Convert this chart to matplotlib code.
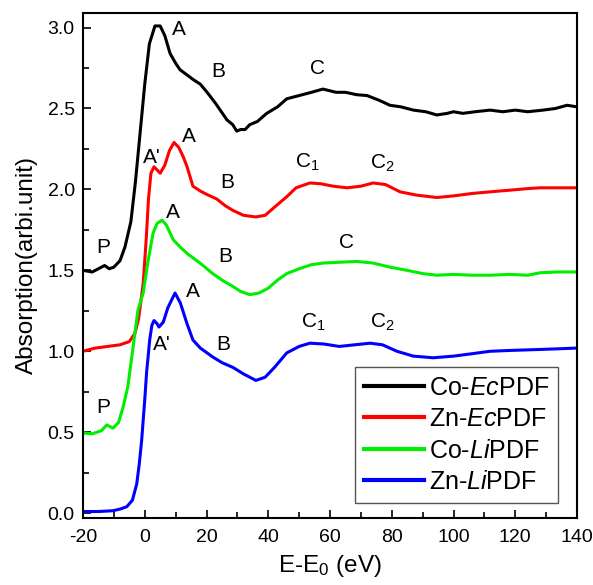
import numpy as np
import matplotlib
matplotlib.use('Agg')
import matplotlib.pyplot as plt

plt.rcParams['font.family'] = 'Liberation Sans'
plt.rcParams['mathtext.fontset'] = 'custom'
plt.rcParams['mathtext.rm'] = 'Liberation Sans'
plt.rcParams['mathtext.it'] = 'Liberation Sans:italic'
plt.rcParams['axes.unicode_minus'] = False

# Co-EcPDF (black)
e_co_ec = [-20, -17, -15, -13, -11.5, -10, -8, -6.4, -4.5, -3, -1.5, 0, 1.5, 3.3, 5, 6.5, 8.2, 10, 11.4, 13.5, 15.6, 18, 20.2, 23, 26.6, 28.5, 29.8, 31, 32.5, 34, 36.5, 39.5, 43, 46, 50, 54, 57.7, 62, 65, 68.7, 72, 76, 79.4, 83, 87, 91, 94.6, 98, 100, 103, 107, 111.8, 116, 120, 124, 129, 133, 136.8, 140]
a_co_ec = [1.50, 1.49, 1.51, 1.53, 1.51, 1.52, 1.56, 1.645, 1.80, 2.05, 2.35, 2.65, 2.90, 3.01, 3.01, 2.95, 2.84, 2.78, 2.74, 2.71, 2.68, 2.65, 2.60, 2.53, 2.43, 2.40, 2.36, 2.37, 2.37, 2.40, 2.42, 2.47, 2.51, 2.56, 2.58, 2.60, 2.62, 2.60, 2.60, 2.585, 2.58, 2.55, 2.52, 2.51, 2.49, 2.48, 2.46, 2.47, 2.48, 2.47, 2.48, 2.49, 2.48, 2.49, 2.48, 2.49, 2.50, 2.52, 2.51]

# Zn-EcPDF (red)
e_zn_ec = [-20, -16, -12, -8, -5, -3.2, -2, -0.5, 0.5, 1.2, 2, 3, 4, 5, 6.5, 8, 9.5, 11, 12.5, 13.7, 15.6, 18, 20, 23.4, 26, 28.6, 32, 36, 39, 42, 46, 49, 53.5, 57, 61, 65.5, 70, 74, 78, 82.7, 88, 94.6, 100, 106, 111.8, 118, 124, 128, 134, 140]
a_zn_ec = [1.00, 1.02, 1.03, 1.04, 1.06, 1.11, 1.20, 1.42, 1.70, 1.94, 2.10, 2.14, 2.12, 2.10, 2.15, 2.24, 2.29, 2.26, 2.20, 2.14, 2.02, 1.99, 1.97, 1.94, 1.90, 1.87, 1.84, 1.83, 1.84, 1.89, 1.955, 2.01, 2.04, 2.035, 2.02, 2.01, 2.02, 2.04, 2.03, 1.985, 1.965, 1.95, 1.96, 1.975, 1.985, 1.995, 2.005, 2.01, 2.01, 2.01]

# Co-LiPDF (green)
e_co_li = [-20, -17, -14, -12.3, -10.3, -8.5, -7, -5.5, -4.2, -3.2, -2.2, -0.5, 1, 2.7, 4, 5.6, 7, 9.2, 11.4, 14, 17.9, 22, 25, 28.6, 31, 34, 37, 40, 43, 46, 50, 54, 57.7, 63, 68.7, 74, 79.4, 85, 90, 94.6, 100, 106, 111.8, 118, 124, 128, 133.5, 140]
a_co_li = [0.495, 0.49, 0.51, 0.545, 0.525, 0.56, 0.655, 0.78, 0.965, 1.11, 1.255, 1.36, 1.55, 1.73, 1.79, 1.81, 1.78, 1.69, 1.645, 1.60, 1.545, 1.48, 1.44, 1.40, 1.37, 1.35, 1.36, 1.39, 1.44, 1.48, 1.51, 1.535, 1.545, 1.55, 1.555, 1.545, 1.52, 1.50, 1.48, 1.47, 1.475, 1.47, 1.47, 1.475, 1.47, 1.485, 1.49, 1.49]

# Zn-LiPDF (blue)
e_zn_li = [-20, -15, -10.3, -8, -5.8, -4, -2.6, -1.8, -1, 0, 0.6, 1.6, 2.3, 3, 4, 4.6, 6, 7.5, 9.8, 11.5, 13.7, 15.6, 18, 22, 25, 28.6, 32, 36, 39, 42, 46, 50, 53.5, 58, 63, 68, 73, 77, 81.7, 87, 93.4, 100, 106, 111.8, 118, 126, 133.5, 140]
a_zn_li = [0.01, 0.01, 0.015, 0.025, 0.04, 0.08, 0.18, 0.30, 0.45, 0.70, 0.87, 1.07, 1.16, 1.19, 1.17, 1.15, 1.18, 1.27, 1.36, 1.30, 1.17, 1.07, 1.02, 0.965, 0.93, 0.90, 0.86, 0.82, 0.84, 0.90, 0.99, 1.03, 1.05, 1.045, 1.03, 1.04, 1.05, 1.04, 1.00, 0.97, 0.96, 0.97, 0.985, 1.00, 1.005, 1.01, 1.015, 1.02]

series = [
    (e_co_ec, a_co_ec, 'black', 'Co-$\\mathit{Ec}$PDF'),
    (e_zn_ec, a_zn_ec, '#ff0000', 'Zn-$\\mathit{Ec}$PDF'),
    (e_co_li, a_co_li, '#00ee00', 'Co-$\\mathit{Li}$PDF'),
    (e_zn_li, a_zn_li, '#0000ff', 'Zn-$\\mathit{Li}$PDF'),
]

# peak labels: (text, E, absorption)
labels = [
    ('A', 10.9, 2.99), ('B', 23.8, 2.73), ('C', 56, 2.75), ('P', -13.5, 1.64),
    ("A'", 2.3, 2.20), ('A', 14.4, 2.33), ('B', 26.6, 2.04),
    ('C$_1$', 52.5, 2.17), ('C$_2$', 77, 2.16),
    ('A', 9.2, 1.855), ('B', 26, 1.585), ('C', 65.2, 1.67), ('P', -13.5, 0.65),
    ('A', 15.6, 1.37), ("A'", 5.5, 1.04), ('B', 25.5, 1.04),
    ('C$_1$', 54.5, 1.18), ('C$_2$', 77, 1.18),
]

fig = plt.figure(figsize=(5.93, 5.85), dpi=100)
ax = fig.add_axes([83/593, 1-518/585, (577-83)/593, (518-13)/585])

for e, a, c, lab in series:
    ax.plot(e, a, color=c, lw=2.2, label=lab)

for txt, xe, ya in labels:
    ax.text(xe, ya, txt, fontsize=15, ha='center', va='center')

ax.set_xlim(-20, 140)
ax.set_ylim(-0.03, 3.09)
ax.set_xticks(np.arange(-20, 141, 20))
ax.set_xticks(np.arange(-20, 141, 10), minor=True)
ax.set_yticks(np.arange(0, 3.01, 0.5))
ax.set_yticks(np.arange(0, 3.01, 0.25), minor=True)
ax.yaxis.set_major_formatter(matplotlib.ticker.FormatStrFormatter('%.1f'))
ax.tick_params(direction='in', which='major', length=6, width=1.2, labelsize=14, pad=6)
ax.tick_params(axis='x', which='major', pad=8)
ax.tick_params(direction='in', which='minor', length=4, width=1.2)
for s in ax.spines.values():
    s.set_linewidth(1.5)

ax.set_xlabel('E-E$_0$ (eV)', fontsize=17.5, labelpad=5)
ax.set_ylabel('Absorption(arbi.unit)', fontsize=17.5, labelpad=7)

leg = ax.legend(loc='lower right', fontsize=18, fancybox=False, edgecolor='#555555',
                handlelength=2.4, handletextpad=0.2, labelspacing=0.3,
                borderpad=0.35, borderaxespad=0,
                bbox_to_anchor=(0.9615, 0.03), framealpha=1)
leg.get_frame().set_linewidth(1.0)
for line in leg.get_lines():
    line.set_linewidth(3)

fig.savefig('out.png', dpi=100)
